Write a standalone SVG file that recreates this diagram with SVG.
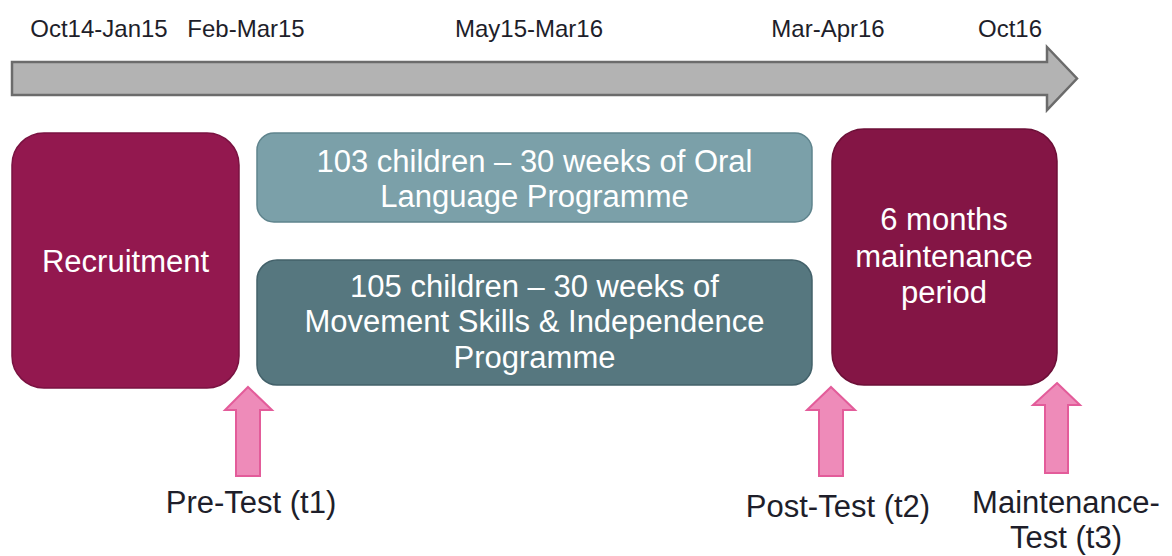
<svg xmlns="http://www.w3.org/2000/svg" width="1172" height="556" viewBox="0 0 1172 556">
<style>
text{font-family:"Liberation Sans",Arial,sans-serif;}
.date{font-size:24px;fill:#1e1e2a;text-anchor:middle;}
.lbl{font-size:31px;fill:#1e1e2a;text-anchor:middle;}
.wt{font-size:31px;fill:#ffffff;text-anchor:middle;}
.pink{fill:#ee8bb9;stroke:#e35c9a;stroke-width:2;}
</style>
<rect width="1172" height="556" fill="#ffffff"/>
<g id="timeline">
<polygon points="12,62 1047,62 1047,47 1077,78.5 1047,110 1047,95 12,95" fill="#b3b3b3" stroke="#6b6b6b" stroke-width="2.5" stroke-linejoin="miter"/>
<text class="date" x="99" y="37">Oct14-Jan15</text>
<text class="date" x="246" y="37">Feb-Mar15</text>
<text class="date" x="529" y="37">May15-Mar16</text>
<text class="date" x="828" y="37">Mar-Apr16</text>
<text class="date" x="1010" y="37">Oct16</text>
</g>
<g id="recruitment">
<rect x="12" y="133" width="227" height="255" rx="32" fill="#93184f" stroke="#7a1241" stroke-width="1.5"/>
<text class="wt" x="125.5" y="272">Recruitment</text>
</g>
<g id="oral">
<rect x="257" y="133" width="555" height="89" rx="17" fill="#7ba0a9" stroke="#5f848d" stroke-width="1.5"/>
<text class="wt" x="534.5" y="172">103 children – 30 weeks of Oral</text>
<text class="wt" x="534.5" y="207">Language Programme</text>
</g>
<g id="movement">
<rect x="257" y="260" width="555" height="125" rx="20" fill="#56777f" stroke="#43616a" stroke-width="1.5"/>
<text class="wt" x="534.5" y="297">105 children – 30 weeks of</text>
<text class="wt" x="534.5" y="332">Movement Skills &amp; Independence</text>
<text class="wt" x="534.5" y="368">Programme</text>
</g>
<g id="maintenance">
<rect x="832" y="129" width="225" height="256" rx="32" fill="#841545" stroke="#6c0f37" stroke-width="1.5"/>
<text class="wt" x="944" y="230">6 months</text>
<text class="wt" x="944" y="267">maintenance</text>
<text class="wt" x="944" y="303">period</text>
</g>
<g id="connectors">
<polygon class="pink" points="248,387 272,410 260,410 260,476 236,476 236,410 225,410"/>
<polygon class="pink" points="831,387 855,410 843,410 843,476 819,476 819,410 807,410"/>
<polygon class="pink" points="1057,383 1080,405 1068,405 1068,473 1045,473 1045,405 1033,405"/>
</g>
<g id="pretest">
<text class="lbl" x="251" y="513">Pre-Test (t1)</text>
</g>
<g id="posttest">
<text class="lbl" x="838" y="517">Post-Test (t2)</text>
</g>
<g id="maintest">
<text class="lbl" x="1066" y="513">Maintenance-</text>
<text class="lbl" x="1066" y="548">Test (t3)</text>
</g>
</svg>
